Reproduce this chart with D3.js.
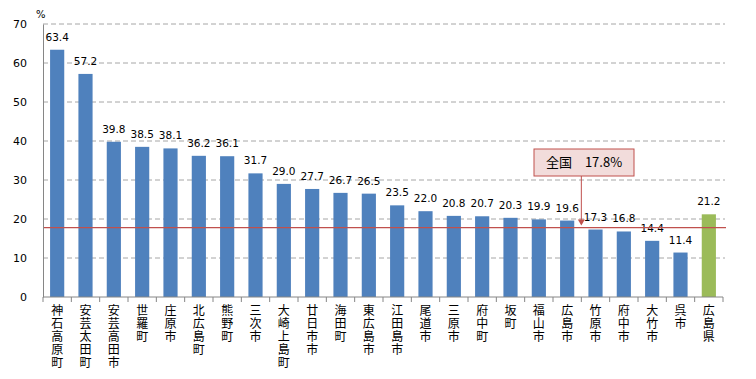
<!DOCTYPE html>
<html>
<head>
<meta charset="utf-8">
<script src="https://cdn.jsdelivr.net/npm/d3@7"></script>
<style>
body { margin: 0; background: #fff; }
svg { display: block; }
</style>
</head>
<body>
<div id="chart"></div>
<script>
// data
var categories = ["神石高原町","安芸太田町","安芸高田市","世羅町","庄原市","北広島町","熊野町","三次市","大崎上島町","廿日市市","海田町","東広島市","江田島市","尾道市","三原市","府中町","坂町","福山市","広島市","竹原市","府中市","大竹市","呉市","広島県"];
var values = [63.4,57.2,39.8,38.5,38.1,36.2,36.1,31.7,29.0,27.7,26.7,26.5,23.5,22.0,20.8,20.7,20.3,19.9,19.6,17.3,16.8,14.4,11.4,21.2];
var yTicks = [0,10,20,30,40,50,60,70];
var national = 17.8;
var nationalLabel = "全国　17.8%";

var W = 756, H = 379;
var plotL = 43, plotR = 723, plotT = 24, plotB = 297;

var svg = d3.select("#chart").append("svg")
    .attr("width", W).attr("height", H);

var x = d3.scaleBand().domain(categories).range([plotL, plotR])
    .paddingInner(0.5).paddingOuter(0.25);
var y = d3.scaleLinear().domain([0, 70]).range([plotB, plotT]);

// grid lines
svg.append("g").selectAll("line")
    .data(yTicks.filter(function(d) { return d > 0; }))
    .enter().append("line")
    .attr("x1", plotL).attr("x2", plotR + 2)
    .attr("y1", function(d) { return y(d); })
    .attr("y2", function(d) { return y(d); })
    .attr("stroke", "#a6a6a6")
    .attr("stroke-dasharray", "5,3");

// bars
svg.append("g").selectAll("rect")
    .data(values)
    .enter().append("rect")
    .attr("x", function(d, i) { return x(categories[i]); })
    .attr("width", x.bandwidth())
    .attr("y", function(d) { return y(d); })
    .attr("height", function(d) { return plotB - y(d); })
    .attr("fill", function(d, i) { return categories[i] == "広島県" ? "#9bbb59" : "#4f81bd"; });

// value labels
svg.append("g").selectAll("text")
    .data(values)
    .enter().append("text")
    .attr("x", function(d, i) { return x(categories[i]) + x.bandwidth() / 2; })
    .attr("y", function(d) { return y(d) - 9; })
    .attr("text-anchor", "middle")
    .attr("font-family", "DejaVu Sans, sans-serif")
    .attr("font-size", "10.5px")
    .attr("fill", "#000")
    .text(function(d) { return d.toFixed(1); });

// national line
svg.append("line")
    .attr("x1", plotL).attr("x2", plotR + 3)
    .attr("y1", y(national)).attr("y2", y(national))
    .attr("stroke", "#c0504d").attr("stroke-width", 1.2);

// y axis
var yAxis = svg.append("g")
    .attr("transform", "translate(" + plotL + ",0)")
    .call(d3.axisLeft(y).tickValues(yTicks).tickSize(0).tickPadding(16));
yAxis.select(".domain").attr("stroke", "#868686");
yAxis.selectAll("text")
    .attr("font-family", "DejaVu Sans, sans-serif")
    .attr("font-size", "11px")
    .attr("fill", "#000");

// x axis
var xAxis = svg.append("g")
    .attr("transform", "translate(0," + plotB + ")");
xAxis.append("line")
    .attr("x1", plotL).attr("x2", plotR)
    .attr("stroke", "#868686");
var bounds = categories.map(function(c) { return x(c) - x.step() * x.paddingInner() / 2; });
bounds.push(plotR);
xAxis.selectAll(".tk").data(bounds).enter().append("line")
    .attr("x1", function(d) { return d; }).attr("x2", function(d) { return d; })
    .attr("y1", 0).attr("y2", 5)
    .attr("stroke", "#868686");

// category labels, written top to bottom
svg.append("g").selectAll("text")
    .data(categories)
    .enter().append("text")
    .attr("x", function(c) { return x(c) + x.bandwidth() / 2; })
    .attr("y", 304)
    .style("writing-mode", "vertical-rl")
    .style("text-orientation", "upright")
    .style("letter-spacing", "1.2px")
    .attr("font-family", "Noto Sans CJK JP, sans-serif")
    .attr("font-size", "12px")
    .attr("fill", "#000")
    .text(function(c) { return c; });

// unit
svg.append("text")
    .attr("x", 36).attr("y", 18)
    .attr("font-family", "DejaVu Sans, sans-serif")
    .attr("font-size", "10px")
    .text("%");

// annotation
var ax = x("竹原市") - x.step() * x.paddingInner() / 2;
svg.append("line")
    .attr("x1", ax).attr("x2", ax)
    .attr("y1", 176).attr("y2", y(national) - 4)
    .attr("stroke", "#c0504d");
svg.append("path")
    .attr("d", "M" + (ax - 3.5) + "," + (y(national) - 8) + "L" + (ax + 3.5) + "," + (y(national) - 8) + "L" + ax + "," + (y(national) - 2) + "Z")
    .attr("fill", "#c0504d");
svg.append("rect")
    .attr("x", 534).attr("y", 149)
    .attr("width", 100).attr("height", 27)
    .attr("fill", "#f2dcdb")
    .attr("stroke", "#c0504d");
svg.append("text")
    .attr("x", 584).attr("y", 167)
    .attr("text-anchor", "middle")
    .attr("font-family", "Noto Sans CJK JP, sans-serif")
    .attr("font-size", "13px")
    .text(nationalLabel);
</script>
</body>
</html>
